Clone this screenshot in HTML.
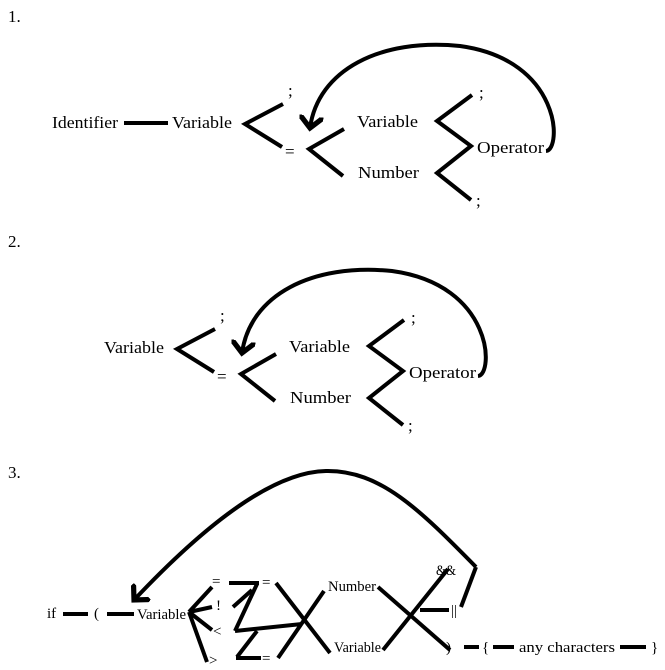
<!DOCTYPE html>
<html><head><meta charset="utf-8"><style>
html,body{margin:0;padding:0;background:#fff;}
svg{display:block;}
text{font-family:"Liberation Serif",serif;fill:#000;}
.l{stroke:#000;stroke-width:4;fill:none;stroke-linecap:butt;}
.t{font-size:17px;}
.s{font-size:15px;}
</style></head><body>
<svg width="665" height="670" viewBox="0 0 665 670">
<defs>
<marker id="ah" markerWidth="6" markerHeight="6" refX="3" refY="3" orient="auto" markerUnits="strokeWidth">
<path d="M0,0 L3,3 L0,6" fill="none" stroke="#000" stroke-width="1.3"/>
</marker>
</defs>

<!-- Diagram 1 -->
<g>
<text x="8" y="22" class="t">1.</text>
<text x="52" y="128" class="t" textLength="66" lengthAdjust="spacingAndGlyphs">Identifier</text>
<line x1="124" y1="123" x2="168" y2="123" class="l" stroke-width="5"/>
<g>
<text x="172" y="128" class="t" textLength="60" lengthAdjust="spacingAndGlyphs">Variable</text>
<polyline points="283,104 245,124 282,147" class="l"/>
<text x="288" y="96" class="t">;</text>
<text x="285" y="157" class="t">=</text>
<polyline points="344,129 309,149 343,176" class="l"/>
<text x="357" y="127" class="t" textLength="61" lengthAdjust="spacingAndGlyphs">Variable</text>
<text x="358" y="178" class="t" textLength="61" lengthAdjust="spacingAndGlyphs">Number</text>
<polyline points="472,95 437,121 471,146 437,173 471,200" class="l"/>
<text x="479" y="98" class="t">;</text>
<text x="477" y="153" class="t" textLength="67" lengthAdjust="spacingAndGlyphs">Operator</text>
<text x="476" y="206" class="t">;</text>
<path d="M546,151 C562,150 562,60 460,46 C380,38 318,70 310,128" class="l" marker-end="url(#ah)"/>
</g>
</g>

<!-- Diagram 2 -->
<g>
<text x="8" y="247" class="t">2.</text>
<g transform="translate(-68,225)">
<text x="172" y="128" class="t" textLength="60" lengthAdjust="spacingAndGlyphs">Variable</text>
<polyline points="283,104 245,124 282,147" class="l"/>
<text x="288" y="96" class="t">;</text>
<text x="285" y="157" class="t">=</text>
<polyline points="344,129 309,149 343,176" class="l"/>
<text x="357" y="127" class="t" textLength="61" lengthAdjust="spacingAndGlyphs">Variable</text>
<text x="358" y="178" class="t" textLength="61" lengthAdjust="spacingAndGlyphs">Number</text>
<polyline points="472,95 437,121 471,146 437,173 471,200" class="l"/>
<text x="479" y="98" class="t">;</text>
<text x="477" y="153" class="t" textLength="67" lengthAdjust="spacingAndGlyphs">Operator</text>
<text x="476" y="206" class="t">;</text>
<path d="M546,151 C562,150 562,60 460,46 C380,38 318,70 310,128" class="l" marker-end="url(#ah)"/>
</g>
</g>

<!-- Diagram 3 -->
<g>
<text x="8" y="478" class="t">3.</text>
<text x="47" y="618" class="s">if</text>
<line x1="63" y1="614" x2="88" y2="614" class="l" stroke-width="5"/>
<text x="94" y="618" class="s">(</text>
<line x1="107" y1="614" x2="134" y2="614" class="l" stroke-width="5"/>
<text x="137" y="619" class="s" textLength="49" lengthAdjust="spacingAndGlyphs">Variable</text>
<g>
<line x1="189" y1="612" x2="212" y2="587" class="l"/>
<line x1="189" y1="612" x2="212" y2="607" class="l"/>
<line x1="189" y1="612" x2="212" y2="630" class="l"/>
<line x1="189" y1="612" x2="207" y2="662" class="l"/>
</g>
<text x="212" y="586" class="s">=</text>
<text x="216" y="610" class="s">!</text>
<text x="213" y="636" class="s">&lt;</text>
<text x="209" y="665" class="s">&gt;</text>
<g>
<line x1="229" y1="583" x2="259" y2="583" class="l" stroke-width="6"/>
<line x1="257" y1="584" x2="235" y2="631" class="l"/>
<line x1="233" y1="607" x2="252" y2="590" class="l"/>
<line x1="235" y1="631" x2="302" y2="624" class="l"/>
<line x1="236" y1="658" x2="261" y2="658" class="l" stroke-width="6"/>
<line x1="237" y1="657" x2="257" y2="631" class="l"/>
</g>
<text x="262" y="587" class="s">=</text>
<text x="262" y="663" class="s">=</text>
<line x1="276" y1="583" x2="330" y2="653" class="l"/>
<line x1="278" y1="658" x2="324" y2="591" class="l"/>
<text x="328" y="591" class="s" textLength="48" lengthAdjust="spacingAndGlyphs">Number</text>
<text x="334" y="652" class="s" textLength="47" lengthAdjust="spacingAndGlyphs">Variable</text>
<line x1="378" y1="587" x2="450" y2="650" class="l"/>
<line x1="383" y1="650" x2="448" y2="569" class="l"/>
<line x1="420" y1="610" x2="449" y2="610" class="l"/>
<text x="436" y="575" class="s" textLength="20" lengthAdjust="spacingAndGlyphs">&amp;&amp;</text>
<text x="451" y="615" class="s">||</text>
<line x1="476" y1="567" x2="461" y2="607" class="l"/>
<text x="446" y="652" class="s">)</text>
<line x1="464" y1="647" x2="479" y2="647" class="l" stroke-width="5"/>
<text x="482" y="652" class="s">{</text>
<line x1="493" y1="647" x2="514" y2="647" class="l" stroke-width="5"/>
<text x="519" y="652" class="s" textLength="96" lengthAdjust="spacingAndGlyphs">any characters</text>
<line x1="620" y1="647" x2="646" y2="647" class="l" stroke-width="5"/>
<text x="651" y="652" class="s">}</text>
<path d="M476,567 C420,510 380,470 326,471 C270,472 200,530 134,600" class="l" marker-end="url(#ah)"/>
</g>
</svg>
</body></html>
